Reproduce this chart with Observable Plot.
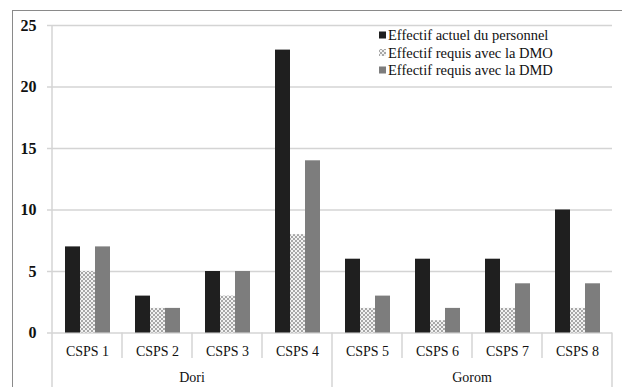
<!DOCTYPE html>
<html>
<head>
<meta charset="utf-8">
<script src="https://cdn.jsdelivr.net/npm/d3@7"></script>
<script src="https://cdn.jsdelivr.net/npm/@observablehq/plot@0.6"></script>
<style>
  html, body { margin: 0; padding: 0; background: #fff; }
  #wrap { position: relative; width: 622px; height: 387px; overflow: hidden; }
  #frame { position: absolute; left: 12px; top: 10px; width: 640px; height: 400px;
           border-left: 1.5px solid #8a8a8a; border-top: 1.5px solid #8a8a8a; pointer-events: none; }
  g[aria-label^="y-axis"] text { font-weight: bold; font-size: 16px; fill: #111; }
  g[aria-label^="y-axis"] line, g[aria-label^="y-axis"] path { stroke: #d4d4d4 !important; stroke-width: 1.5; }
</style>
</head>
<body>
<div id="wrap"><div id="frame"></div></div>
<script>
const categories = ["CSPS 1", "CSPS 2", "CSPS 3", "CSPS 4", "CSPS 5", "CSPS 6", "CSPS 7", "CSPS 8"];
const groups = ["Dori", "Gorom"];
const groupSizes = [4, 4];
const series = ["Effectif actuel du personnel", "Effectif requis avec la DMO", "Effectif requis avec la DMD"];
const actuel = [7, 3, 5, 23, 6, 6, 6, 10];
const dmo = [5, 2, 3, 8, 2, 1, 2, 2];
const dmd = [7, 2, 5, 14, 3, 2, 4, 4];
const yTicks = [0, 5, 10, 15, 20, 25];

const valuesBySeries = [actuel, dmo, dmd];
const rows = [];
categories.forEach((c, i) => series.forEach((s, j) => rows.push({cat: c, series: s, value: valuesBySeries[j][i]})));

const fills = ["#1f1f1f", "url(#dots)", "#7d7d7d"];

const chart = Plot.plot({
  width: 622,
  height: 387,
  marginTop: 25,
  marginBottom: 54.5,
  marginLeft: 51,
  marginRight: 9,
  style: {fontFamily: "Liberation Serif", fontSize: "14px", color: "#111", background: "transparent"},
  facet: {data: rows, x: "cat"},
  fx: {domain: categories, padding: 0, axis: "bottom", tickSize: 0, tickPadding: 13, label: null},
  x: {domain: series, axis: null, paddingInner: 0, paddingOuter: 0.8},
  y: {domain: [0, 25], ticks: yTicks, tickSize: 5, tickPadding: 11, label: null},
  color: {type: "ordinal", domain: series, range: fills},
  marks: [
    Plot.ruleY(yTicks, {stroke: "#d4d4d4", strokeWidth: 1.5}),
    Plot.barY(rows, {x: "series", y: "value", fill: "series"})
  ]
});

const svg = d3.select(chart);
const defs = svg.insert("defs", ":first-child");
const pat = defs.append("pattern").attr("id", "dots").attr("patternUnits", "userSpaceOnUse")
  .attr("width", 4).attr("height", 4);
pat.append("rect").attr("width", 4).attr("height", 4).attr("fill", "#f2f2f2");
pat.append("circle").attr("cx", 1).attr("cy", 1).attr("r", 0.95).attr("fill", "#888");
pat.append("circle").attr("cx", 3).attr("cy", 3).attr("r", 0.95).attr("fill", "#888");

const fx = chart.scale("fx");
const ys = chart.scale("y");
const bw = fx.bandwidth;
const y0 = ys.apply(0), yTop = ys.apply(25);
const deco = svg.append("g").attr("stroke", "#d4d4d4").attr("stroke-width", 1.5);
// y axis line
deco.append("line").attr("x1", fx.apply(categories[0])).attr("x2", fx.apply(categories[0]))
  .attr("y1", yTop).attr("y2", y0);
// category separators
const groupStarts = [];
let k = 0;
groupSizes.forEach(n => { groupStarts.push(k); k += n; });
categories.forEach((c, i) => {
  const x = fx.apply(c);
  const long = groupStarts.includes(i);
  deco.append("line").attr("x1", x).attr("x2", x).attr("y1", y0).attr("y2", long ? 400 : 358);
});
const xEnd = fx.apply(categories[categories.length - 1]) + bw;
deco.append("line").attr("x1", xEnd).attr("x2", xEnd).attr("y1", y0).attr("y2", 400);
// group labels
groups.forEach((g, gi) => {
  const a = fx.apply(categories[groupStarts[gi]]);
  const b = fx.apply(categories[groupStarts[gi] + groupSizes[gi] - 1]) + bw;
  svg.append("text").attr("x", (a + b) / 2).attr("y", 382).attr("text-anchor", "middle")
    .attr("font-size", 14).attr("fill", "#111").text(g);
});
// legend
const lg = svg.append("g").attr("font-size", 14.5).attr("fill", "#111").attr("text-anchor", "start");
series.forEach((s, i) => {
  const cy = 35 + i * 17.5;
  lg.append("rect").attr("x", 379).attr("y", cy - 3.5).attr("width", 7).attr("height", 7)
    .attr("fill", fills[i]);
  lg.append("text").attr("x", 388).attr("y", cy).attr("dy", "0.35em").attr("text-anchor", "start").text(s);
});

document.getElementById("wrap").prepend(chart);
</script>
</body>
</html>
